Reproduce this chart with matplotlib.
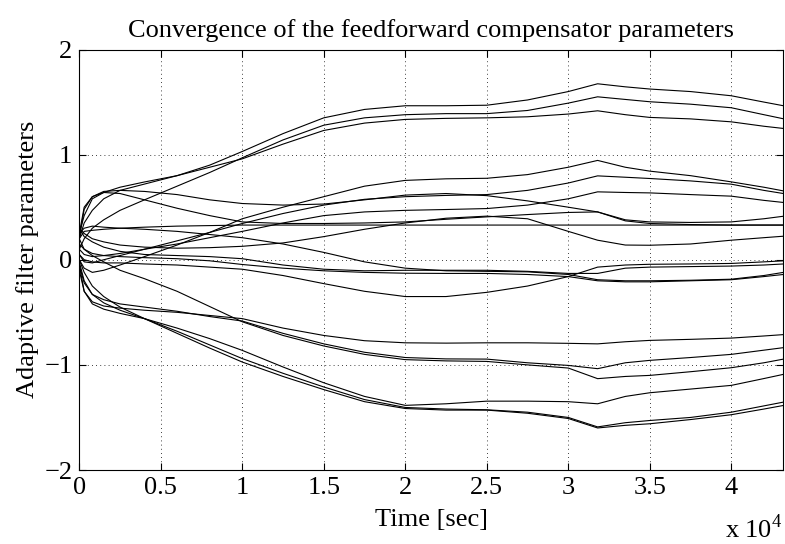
import matplotlib.pyplot as plt
import numpy as np

plt.rcParams['font.family'] = ['Liberation Serif', 'DejaVu Serif']
plt.rcParams['mathtext.fontset'] = 'custom'
plt.rcParams['mathtext.rm'] = 'Liberation Serif'

# sample times (x 10^4 sec)
t = np.array([0, 0.03, 0.08, 0.15, 0.25, 0.4, 0.6, 0.8, 1.0, 1.25, 1.5, 1.75,
              2.0, 2.25, 2.5, 2.75, 3.0, 3.18, 3.35, 3.5, 3.75, 4.0, 4.2, 4.32]) * 1e4

# upper group
t1 = [0.25, 0.42, 0.58, 0.64, 0.69, 0.74, 0.8, 0.9, 1.03, 1.2, 1.35, 1.43,
      1.465, 1.465, 1.47, 1.52, 1.6, 1.674, 1.645, 1.624, 1.6, 1.56, 1.5, 1.465]
t2 = [0.1, 0.2, 0.3, 0.38, 0.47, 0.57, 0.7, 0.83, 0.97, 1.14, 1.28, 1.35,
      1.38, 1.39, 1.39, 1.42, 1.49, 1.55, 1.525, 1.503, 1.48, 1.446, 1.38, 1.341]
t3 = [0.2, 0.35, 0.47, 0.58, 0.66, 0.72, 0.8, 0.88, 0.96, 1.1, 1.23, 1.3,
      1.335, 1.345, 1.35, 1.36, 1.386, 1.417, 1.38, 1.354, 1.34, 1.312, 1.27, 1.249]

# middle group
m1 = [0.0, -0.08, -0.12, -0.1, -0.05, 0.03, 0.14, 0.26, 0.39, 0.5, 0.6, 0.7,
      0.755, 0.77, 0.775, 0.81, 0.88, 0.945, 0.88, 0.843, 0.8, 0.741, 0.69, 0.655]
m2 = [0.05, -0.02, -0.03, 0.0, 0.04, 0.1, 0.18, 0.26, 0.345, 0.44, 0.52, 0.575,
      0.6, 0.612, 0.62, 0.66, 0.73, 0.798, 0.785, 0.773, 0.75, 0.719, 0.66, 0.63]
m3 = [0.1, 0.05, 0.03, 0.04, 0.06, 0.1, 0.15, 0.21, 0.27, 0.35, 0.42, 0.455,
      0.47, 0.478, 0.487, 0.52, 0.58, 0.646, 0.64, 0.636, 0.62, 0.605, 0.565, 0.545]
m4 = [0.2, 0.48, 0.6, 0.65, 0.66, 0.65, 0.62, 0.57, 0.535, 0.52, 0.53, 0.57,
      0.615, 0.63, 0.61, 0.56, 0.5, 0.455, 0.38, 0.36, 0.355, 0.36, 0.39, 0.414]
m5 = [0.25, 0.5, 0.6, 0.64, 0.63, 0.57, 0.49, 0.42, 0.36, 0.345, 0.345, 0.35,
      0.36, 0.385, 0.408, 0.43, 0.45, 0.455, 0.37, 0.345, 0.335, 0.33, 0.33, 0.33]
m6 = [0.3, 0.25, 0.2, 0.17, 0.14, 0.12, 0.11, 0.115, 0.128, 0.16, 0.22, 0.29,
      0.35, 0.395, 0.415, 0.39, 0.27, 0.186, 0.14, 0.138, 0.15, 0.186, 0.21, 0.224]
m7 = [0.2, 0.27, 0.28, 0.29, 0.3, 0.31, 0.32, 0.325, 0.33, 0.33, 0.33, 0.33,
      0.33, 0.33, 0.33, 0.33, 0.33, 0.33, 0.33, 0.33, 0.33, 0.33, 0.33, 0.33]

# around zero
z1 = [0.25, 0.3, 0.32, 0.31, 0.3, 0.29, 0.27, 0.24, 0.21, 0.15, 0.07, -0.02,
      -0.08, -0.105, -0.11, -0.115, -0.14, -0.19, -0.2, -0.2, -0.195, -0.185, -0.15, -0.12]
z2 = [0.05, 0.0, -0.02, -0.03, -0.03, -0.04, -0.05, -0.07, -0.09, -0.15, -0.227, -0.3,
      -0.35, -0.35, -0.31, -0.25, -0.16, -0.07, -0.05, -0.043, -0.04, -0.035, -0.02, -0.01]
z3 = [0.2, 0.1, 0.06, 0.04, 0.03, 0.02, 0.01, -0.01, -0.045, -0.08, -0.105, -0.12,
      -0.128, -0.13, -0.13, -0.14, -0.16, -0.2, -0.21, -0.21, -0.2, -0.19, -0.16, -0.14]
z4 = [0.3, 0.22, 0.17, 0.12, 0.08, 0.05, 0.04, 0.03, 0.01, -0.05, -0.09, -0.105,
      -0.1, -0.1, -0.1, -0.11, -0.13, -0.13, -0.08, -0.07, -0.065, -0.06, -0.05, -0.04]

# lower group
b1 = [-0.1, -0.3, -0.4, -0.44, -0.46, -0.48, -0.5, -0.53, -0.56, -0.65, -0.72, -0.77,
      -0.79, -0.793, -0.79, -0.79, -0.795, -0.8, -0.78, -0.767, -0.757, -0.745, -0.725, -0.712]
b2 = [-0.05, -0.22, -0.33, -0.38, -0.42, -0.45, -0.49, -0.54, -0.583, -0.7, -0.8, -0.88,
      -0.93, -0.943, -0.945, -0.98, -1.005, -1.036, -0.98, -0.957, -0.93, -0.9, -0.86, -0.836]
b3 = [0.15, 0.1, 0.04, -0.02, -0.1, -0.18, -0.3, -0.445, -0.59, -0.72, -0.82, -0.9,
      -0.95, -0.962, -0.967, -1.0, -1.03, -1.131, -1.11, -1.1, -1.065, -1.027, -0.98, -0.945]
b4 = [-0.05, -0.3, -0.42, -0.47, -0.51, -0.56, -0.65, -0.75, -0.862, -1.02, -1.17, -1.3,
      -1.385, -1.37, -1.345, -1.345, -1.35, -1.37, -1.3, -1.265, -1.23, -1.195, -1.13, -1.09]
b5 = [-0.02, -0.2, -0.33, -0.41, -0.48, -0.56, -0.68, -0.81, -0.94, -1.08, -1.21, -1.33,
      -1.405, -1.42, -1.427, -1.45, -1.5, -1.59, -1.55, -1.529, -1.5, -1.45, -1.39, -1.354]
b6 = [0.0, -0.12, -0.25, -0.35, -0.45, -0.56, -0.7, -0.84, -0.973, -1.11, -1.235, -1.35,
      -1.415, -1.43, -1.43, -1.46, -1.51, -1.6, -1.575, -1.56, -1.52, -1.474, -1.42, -1.386]

params = [t1, t2, t3, m1, m2, m3, m4, m5, m6, m7, z1, z2, z3, z4, b1, b2, b3, b4, b5, b6]

xticks = [0, 5000, 10000, 15000, 20000, 25000, 30000, 35000, 40000]
xticklabels = ['0', '0.5', '1', '1.5', '2', '2.5', '3', '3.5', '4']
yticks = [-2, -1, 0, 1, 2]

fig = plt.figure(figsize=(7.85, 5.44), dpi=100)
ax = fig.add_axes([0.101, 0.136, 0.897, 0.773])

for p in params:
    ax.plot(t, p, color='k', linewidth=0.8)

ax.set_xlim(0, 43200)
ax.set_ylim(-2, 2)
ax.set_xticks(xticks)
ax.set_xticklabels(xticklabels)
ax.set_yticks(yticks)
ax.grid(True, color='k', linestyle=(0, (1, 4)), linewidth=0.6)
ax.tick_params(direction='in', top=True, right=True, labelsize=19, length=5, pad=5)

ax.set_title('Convergence of the feedforward compensator parameters', fontsize=19, pad=9)
ax.set_xlabel('Time [sec]', fontsize=19, labelpad=7)
ax.set_ylabel('Adaptive filter parameters', fontsize=19, labelpad=4)
fig.text(0.997, 0.002, r'x 10$^4$', ha='right', va='bottom', fontsize=19)

fig.savefig('out.png', dpi=100)
